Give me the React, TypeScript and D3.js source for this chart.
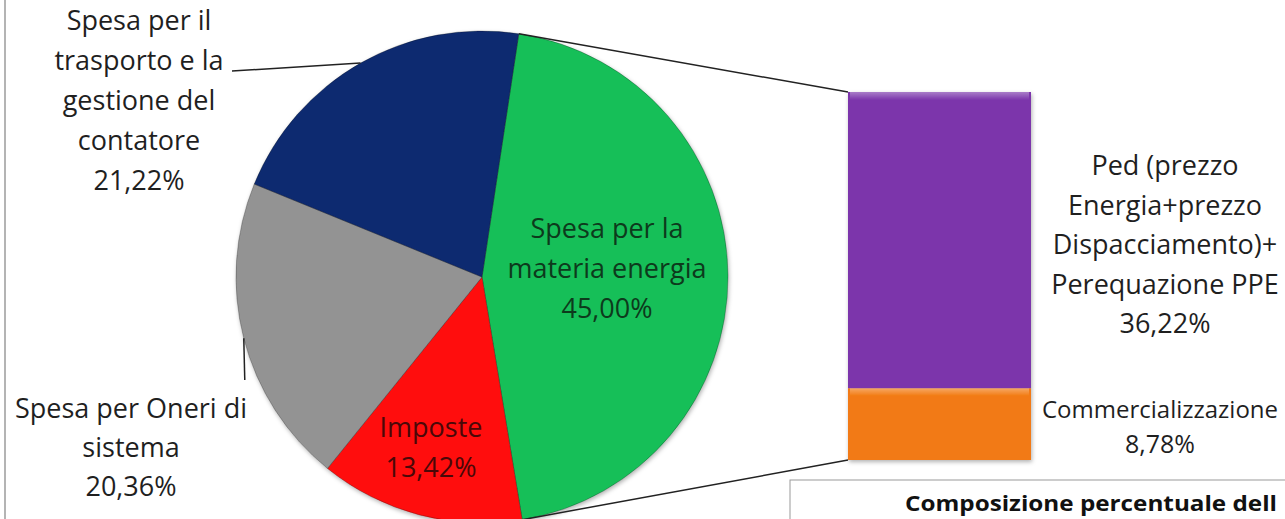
import * as d3 from "d3";

// pie slices, clockwise from the top
const sliceNames = [
  "Spesa per la materia energia",
  "Imposte",
  "Spesa per Oneri di sistema",
  "Spesa per il trasporto e la gestione del contatore",
];
const sliceValues = [45.0, 13.42, 20.36, 21.22];
const sliceColors = ["#16bf59", "#ff1010", "#939393", "#0b2a6f"];

// breakdown of the energy slice (stack from bottom)
const barNames = ["Commercializzazione", "Ped (prezzo Energia+prezzo Dispacciamento)+ Perequazione PPE"];
const barValues = [8.78, 36.22];
const barColors = ["#f27a12", "#7b36ab"];

const fmt = (v: number) => v.toFixed(2).replace(".", ",") + "%";

const W = 1285;
const H = 519;
const cx = 482;
const cy = 277;
const R = 246;
const start = (8.6 * Math.PI) / 180;

export default function App() {
  const pie = d3
    .pie<number>()
    .sort(null)
    .startAngle(start)
    .endAngle(start + 2 * Math.PI)
    .value((d) => d);
  const arcs = pie(sliceValues);
  const arc = d3.arc<d3.PieArcDatum<number>>().innerRadius(0).outerRadius(R);

  const edge = (a: number, r = R) => [cx + r * Math.sin(a), cy - r * Math.cos(a)];

  // bar scales
  const x = d3.scaleBand().domain(["energia"]).range([848, 1031]).padding(0);
  const y = d3.scaleLinear().domain([0, d3.sum(barValues)]).range([460, 92]);
  let acc = 0;
  const segs = barValues.map((v, i) => {
    const s = { y0: acc, y1: acc + v, color: barColors[i] };
    acc += v;
    return s;
  });

  const green = arcs[0];
  const [gx0, gy0] = edge(green.startAngle);
  const [gx1, gy1] = edge(green.endAngle);

  const blueMid = (arcs[3].startAngle + arcs[3].endAngle) / 2;
  const grayMid = (arcs[2].startAngle + arcs[2].endAngle) / 2;
  const [bx, by] = edge(blueMid);
  const [sx, sy] = edge(grayMid);

  const font = "'Open Sans', Lato, sans-serif";
  const label = "#1f1f1f";

  const lines = (txt: string[], x0: number, y0: number, dy: number, size: number, fill: string, weight = 400) => (
    <text x={x0} y={y0} textAnchor="middle" fontSize={size} fill={fill} fontWeight={weight} fontFamily={font}>
      {txt.map((t, i) => (
        <tspan key={i} x={x0} dy={i === 0 ? 0 : dy}>
          {t}
        </tspan>
      ))}
    </text>
  );

  return (
    <svg
      width={W}
      height={H}
      viewBox={`0 0 ${W} ${H}`}
      style={{ position: "absolute", left: 0, top: 0, display: "block", background: "#fff" }}
    >
      <defs>
        <filter id="sh" x="-10%" y="-10%" width="120%" height="120%">
          <feDropShadow dx="1" dy="2" stdDeviation="2" floodColor="#000" floodOpacity="0.3" />
        </filter>
        <linearGradient id="hl" x1="0" y1="0" x2="0" y2="1">
          <stop offset="0" stopColor="#fff" stopOpacity="0.35" />
          <stop offset="1" stopColor="#fff" stopOpacity="0" />
        </linearGradient>
      </defs>

      {/* left frame line */}
      <line x1={5} y1={0} x2={5} y2={H} stroke="#b4b4b4" strokeWidth={2} />

      {/* pie */}
      <g transform={`translate(${cx},${cy})`} filter="url(#sh)">
        {arcs.map((a, i) => (
          <path key={sliceNames[i]} d={arc(a) ?? ""} fill={sliceColors[i]} stroke="rgba(0,0,0,0.25)" strokeWidth={1} />
        ))}
      </g>

      {/* connector lines to the bar */}
      <line x1={gx0} y1={gy0} x2={x("energia")!} y2={y(d3.sum(barValues))} stroke="#222" strokeWidth={1.5} />
      <line x1={gx1} y1={gy1} x2={x("energia")!} y2={y(0)} stroke="#222" strokeWidth={1.5} />

      {/* leader lines */}
      <polyline points={`232,71 ${bx},${by}`} fill="none" stroke="#222" strokeWidth={1.5} />
      <polyline points={`${sx},${sy} ${sx + 1},380`} fill="none" stroke="#222" strokeWidth={1.5} />

      {/* stacked bar */}
      <g filter="url(#sh)">
        {segs.map((s, i) => (
          <g key={barNames[i]}>
            <rect x={x("energia")!} y={y(s.y1)} width={x.bandwidth()} height={y(s.y0) - y(s.y1)} fill={s.color} />
            <rect x={x("energia")! + 2} y={y(s.y1)} width={x.bandwidth() - 4} height={8} fill="url(#hl)" />
          </g>
        ))}
      </g>

      {/* outside labels */}
      {lines(["Spesa per il", "trasporto e la", "gestione del", "contatore", fmt(sliceValues[3])], 139, 30, 40, 27, label)}
      {lines(["Spesa per Oneri di", "sistema", fmt(sliceValues[2])], 131, 418, 39, 27, label)}

      {/* inside labels */}
      {lines(["Spesa per la", "materia energia", fmt(sliceValues[0])], 607, 238, 40, 27, "#0d3a1c")}
      {lines(["Imposte", fmt(sliceValues[1])], 431, 437, 40, 27, "#4a0808")}

      {/* bar labels */}
      {lines(["Ped (prezzo", "Energia+prezzo", "Dispacciamento)+", "Perequazione PPE", fmt(barValues[1])], 1165, 175, 39.5, 27, label)}
      {lines(["Commercializzazione"], 1160, 418, 0, 24, label)}
      {lines([fmt(barValues[0])], 1160, 453, 0, 25, label)}

      {/* caption box */}
      <rect x={790} y={480} width={W} height={60} fill="#fff" stroke="#9a9a9a" strokeWidth={1} />
      <text x={905} y={511} fontSize={22} fontWeight={700} fill="#111" fontFamily={font} textLength={372} lengthAdjust="spacingAndGlyphs">
        Composizione percentuale dell
      </text>
    </svg>
  );
}
